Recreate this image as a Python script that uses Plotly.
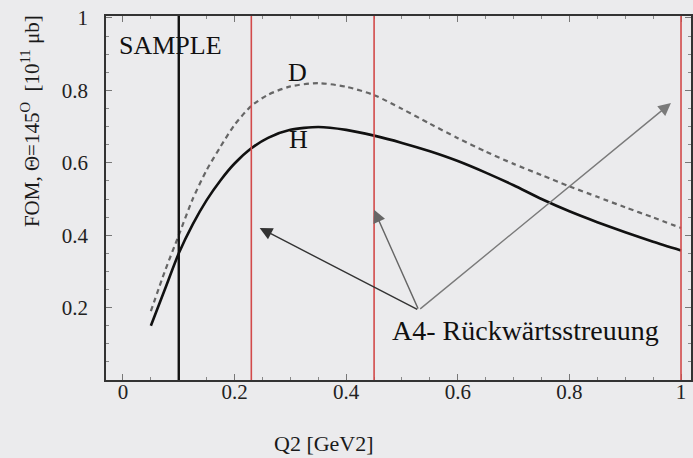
import plotly.graph_objects as go

# Figure of merit vs Q^2 for backward-angle scattering (theta = 145 deg)
q2 = [0.05, 0.075, 0.10, 0.125, 0.15, 0.175, 0.20, 0.23, 0.26, 0.30, 0.35,
      0.40, 0.45, 0.50, 0.55, 0.60, 0.65, 0.70, 0.75, 0.80, 0.85, 0.90,
      0.95, 1.00]
fom_h = [0.15, 0.25, 0.35, 0.43, 0.497, 0.552, 0.598, 0.64, 0.669, 0.691,
         0.699, 0.691, 0.675, 0.655, 0.632, 0.605, 0.573, 0.538, 0.50,
         0.466, 0.436, 0.408, 0.382, 0.358]
fom_d = [0.19, 0.30, 0.40, 0.50, 0.58, 0.645, 0.705, 0.757, 0.788, 0.811,
         0.82, 0.81, 0.787, 0.749, 0.708, 0.668, 0.631, 0.597, 0.566,
         0.535, 0.506, 0.477, 0.449, 0.42]

sample_q2 = 0.1
a4_q2 = [0.23, 0.45, 1.0]

x_ticks = [0, 0.2, 0.4, 0.6, 0.8, 1.0]
x_tick_text = ["0", "0.2", "0.4", "0.6", "0.8", "1"]
y_ticks = [0.2, 0.4, 0.6, 0.8, 1.0]
y_tick_text = ["0.2", "0.4", "0.6", "0.8", "1"]

# label anchor and arrow targets for the A4 annotation (data units)
a4_label = (0.53, 0.193)
a4_targets = [(0.245, 0.42), (0.45, 0.47), (0.982, 0.765)]
a4_arrow_colors = ["#333333", "#666666", "#7a7a7a"]

SERIF = "Liberation Serif, Times New Roman, serif"
BG = "#ebebed"

fig = go.Figure()

fig.add_trace(go.Scatter(x=q2, y=fom_d, mode="lines", name="D",
                         line=dict(color="#666666", width=2.2, dash="5px,4px",
                                   shape="spline", smoothing=0.7)))
fig.add_trace(go.Scatter(x=q2, y=fom_h, mode="lines", name="H",
                         line=dict(color="#111111", width=2.6,
                                   shape="spline", smoothing=0.7)))

# vertical markers: sample point and A4 backward-angle settings
fig.add_shape(type="line", xref="x", yref="paper", x0=sample_q2, x1=sample_q2,
              y0=0, y1=1, line=dict(color="#111111", width=2.4))
for q in a4_q2:
    fig.add_shape(type="line", xref="x", yref="paper", x0=q, x1=q, y0=0, y1=1,
                  line=dict(color="#d24a4a", width=1.6))

annotations = [
    dict(x=-0.01, y=0.925, xref="x", yref="y", text="SAMPLE", showarrow=False,
         xanchor="left", yanchor="middle",
         font=dict(family=SERIF, size=26, color="#111111")),
    dict(x=0.313, y=0.85, xref="x", yref="y", text="D", showarrow=False,
         xanchor="center", yanchor="middle",
         font=dict(family=SERIF, size=26, color="#111111")),
    dict(x=0.315, y=0.665, xref="x", yref="y", text="H", showarrow=False,
         xanchor="center", yanchor="middle",
         font=dict(family=SERIF, size=26, color="#111111")),
    dict(x=0.721, y=0.138, xref="x", yref="y", text="A4- Rückwärtsstreuung",
         showarrow=False, xanchor="center", yanchor="middle",
         font=dict(family=SERIF, size=28, color="#111111")),
    dict(x=-0.129, y=0.71, xref="paper", yref="paper", textangle=-90,
         xanchor="center", yanchor="middle",
         text="FOM, Θ=145<sup>O</sup>  [10<sup>11</sup> μb]", showarrow=False,
         font=dict(family=SERIF, size=21, color="#1a1a1a")),
    dict(x=0.373, y=-0.175, xref="paper", yref="paper", text="Q2 [GeV2]",
         xanchor="center", yanchor="middle",
         showarrow=False, font=dict(family=SERIF, size=22, color="#1a1a1a")),
]
for (tx, ty), col in zip(a4_targets, a4_arrow_colors):
    annotations.append(dict(x=tx, y=ty, xref="x", yref="y",
                            ax=a4_label[0], ay=a4_label[1], axref="x", ayref="y",
                            text="", showarrow=True, arrowhead=2,
                            arrowsize=1.8, arrowwidth=1.4, arrowcolor=col))

fig.update_layout(
    width=693, height=458,
    margin=dict(l=106, r=0, t=16, b=78),
    paper_bgcolor=BG, plot_bgcolor=BG,
    showlegend=False,
    annotations=annotations,
    font=dict(family=SERIF, color="#222222"),
)

fig.update_xaxes(range=[-0.0304, 1.0179], tickvals=x_ticks, ticktext=x_tick_text,
                 showgrid=False, zeroline=False, showline=True, linecolor="#333333",
                 linewidth=1.6, mirror="allticks", ticks="inside", ticklen=6,
                 tickcolor="#777777", ticklabelstandoff=-8,
                 tickfont=dict(family=SERIF, size=21, color="#222222"),
                 minor=dict(dtick=0.05, ticks="inside", ticklen=3, tickcolor="#888888"))
fig.update_yaxes(range=[0, 1.0055], tickvals=y_ticks, ticktext=y_tick_text,
                 showgrid=False, zeroline=False, showline=True, linecolor="#333333",
                 linewidth=1.6, mirror="allticks", ticks="inside", ticklen=6,
                 tickcolor="#777777", ticklabelstandoff=12,
                 tickfont=dict(family=SERIF, size=21, color="#222222"),
                 minor=dict(dtick=0.05, ticks="inside", ticklen=3, tickcolor="#888888"))

fig.write_html("out.html")
